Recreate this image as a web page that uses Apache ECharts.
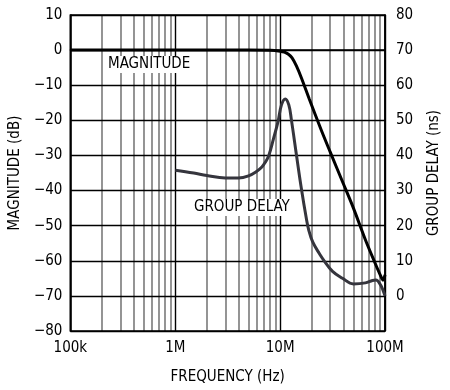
<!DOCTYPE html>
<html>
<head>
<meta charset="utf-8">
<script src="https://cdn.jsdelivr.net/npm/echarts@6/dist/echarts.min.js"></script>
<style>
html,body{margin:0;padding:0;background:#fff;}
#c{width:450px;height:390px;}
</style>
</head>
<body>
<div id="c"></div>
<script>
// ---- data ----
var xTickLabels = { 100000: '100k', 1000000: '1M', 10000000: '10M', 100000000: '100M' };
var minorFreqs = [2e5, 3e5, 4e5, 5e5, 6e5, 7e5, 8e5, 9e5,
                  2e6, 3e6, 4e6, 5e6, 6e6, 7e6, 8e6, 9e6,
                  2e7, 3e7, 4e7, 5e7, 6e7, 7e7, 8e7, 9e7];
var magFreq = [1e5, 1e6, 5e6, 8e6, 10e6, 11e6, 12e6, 13e6, 14.3e6, 16e6, 19e6, 24.6e6, 30e6, 40e6, 50e6, 65e6, 80e6, 90e6, 96e6, 100e6];
var magDb   = [0, 0, 0, -0.05, -0.3, -0.6, -1.2, -2.2, -4.5, -8, -14, -22.7, -29, -38, -45, -54, -60.5, -64, -65.5, -64];
var gdFreq = [1e6, 1.5e6, 2e6, 3e6, 4e6, 5e6, 6e6, 6.7e6, 7.2e6, 7.8e6, 8.6e6, 9.56e6, 10.3e6, 11.2e6, 12.1e6, 12.8e6, 14.3e6, 15.9e6, 17.7e6, 18.8e6, 20.5e6, 23.7e6, 26.3e6, 31.6e6, 39.4e6, 50e6, 65e6, 76e6, 82e6, 90e6, 96e6, 100e6];
var gdNs   = [35.8, 35.0, 34.3, 33.6, 33.6, 34.2, 35.5, 36.7, 38.0, 40.0, 44.5, 49.7, 54.4, 56.1, 54.4, 50.2, 40.2, 30.8, 22.4, 18.6, 15.3, 12.0, 10.0, 7.0, 5.0, 3.4, 3.7, 4.4, 4.5, 3.3, 1.5, 0];

function zip(a, b) { return a.map(function (v, i) { return [v, b[i]]; }); }
function minus(v) { return String(v).replace('-', '\u2212'); }

var FONT = '"DejaVu Sans Condensed", "DejaVu Sans", sans-serif';
var FS = 15;
var txt = { color: '#000', fontFamily: FONT, fontSize: FS };

var chart = echarts.init(document.getElementById('c'), null, { renderer: 'canvas' });
chart.setOption({
  animation: false,
  backgroundColor: '#fff',
  grid: { left: 69, right: 64, top: 15, bottom: 58, show: true, borderColor: '#000', borderWidth: 1.5, backgroundColor: 'transparent', z: 3 },
  xAxis: {
    type: 'log', logBase: 10, min: 1e5, max: 1e8, z: 3,
    name: 'FREQUENCY (Hz)', nameLocation: 'middle', nameGap: 39,
    nameTextStyle: txt,
    axisLine: { show: true, lineStyle: { color: '#000', width: 1.5 } },
    axisTick: { show: false },
    axisLabel: Object.assign({ margin: 10, formatter: function (v) { return xTickLabels[Math.round(v)] || ''; } }, txt),
    splitLine: { show: true, lineStyle: { color: '#000', width: 1.4 } }
  },
  yAxis: [{
    type: 'value', min: -80, max: 10, interval: 10, z: 3,
    name: 'MAGNITUDE (dB)', nameLocation: 'middle', nameGap: 46, nameRotate: 90,
    nameTextStyle: txt,
    axisLine: { show: true, lineStyle: { color: '#000', width: 1.5 } },
    axisTick: { show: false },
    axisLabel: Object.assign({ margin: 8, formatter: minus }, txt),
    splitLine: { show: true, lineStyle: { color: '#000', width: 1.4 } }
  }, {
    type: 'value', min: -10, max: 80, interval: 10, position: 'right', z: 3,
    name: 'GROUP DELAY (ns)', nameLocation: 'middle', nameGap: 42, nameRotate: 90,
    nameTextStyle: txt,
    axisLine: { show: true, lineStyle: { color: '#000', width: 1.5 } },
    axisTick: { show: false },
    axisLabel: Object.assign({ margin: 11, formatter: function (v) { return v < 0 ? '' : String(v); } }, txt),
    splitLine: { show: false }
  }],
  series: [{
    name: 'grid', type: 'line', z: 1, data: [[1e5, -80]], symbol: 'none',
    lineStyle: { opacity: 0 }, silent: true,
    markLine: {
      z: 1, silent: true, symbol: 'none', label: { show: false }, animation: false,
      lineStyle: { color: '#7a7a7a', width: 1.6, type: 'solid' },
      data: minorFreqs.map(function (f) { return { xAxis: f }; })
    }
  }, {
    name: 'MAGNITUDE', type: 'line', z: 10, yAxisIndex: 0, data: zip(magFreq, magDb),
    symbol: 'none', smooth: 0.3,
    lineStyle: { color: '#000', width: 3 }
  }, {
    name: 'GROUP DELAY', type: 'line', z: 9, yAxisIndex: 1, data: zip(gdFreq, gdNs),
    symbol: 'none', smooth: 0.4,
    lineStyle: { color: '#35353d', width: 3 }
  }],
  graphic: [{
    type: 'text', z: 100, left: 106, top: 56,
    style: { text: 'MAGNITUDE', fill: '#000', font: FS + 'px ' + FONT, backgroundColor: '#fff', padding: [1, 2] }
  }, {
    type: 'text', z: 100, left: 192, top: 199,
    style: { text: 'GROUP DELAY', fill: '#000', font: FS + 'px ' + FONT, backgroundColor: '#fff', padding: [1, 2] }
  }]
});
</script>
</body>
</html>
